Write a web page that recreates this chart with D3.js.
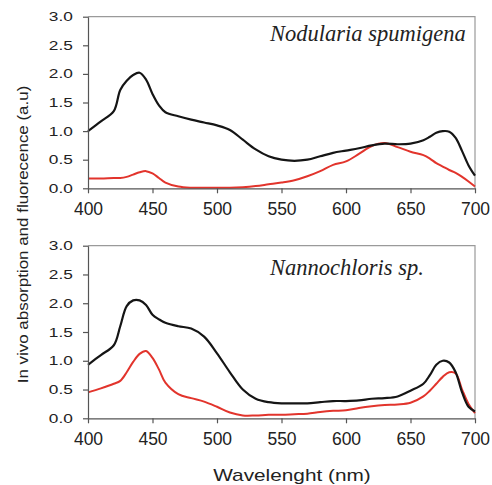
<!DOCTYPE html>
<html><head><meta charset="utf-8">
<script src="https://cdn.jsdelivr.net/npm/d3@7"></script>
<style>
html,body{margin:0;padding:0;background:#fff;}
svg{display:block;}
</style></head>
<body>
<script>
const wavelengths = [400,410,420,425,430,435,440,445,450,455,460,470,480,490,500,510,520,530,540,550,560,570,580,590,600,610,620,630,640,650,660,665,670,675,680,685,690,695,700];
const nodulariaAbs = [1.0,1.17,1.35,1.72,1.88,1.98,2.02,1.9,1.65,1.45,1.33,1.26,1.2,1.15,1.1,1.02,0.85,0.68,0.56,0.5,0.48,0.5,0.56,0.62,0.66,0.7,0.75,0.78,0.77,0.78,0.84,0.9,0.97,1.0,0.99,0.88,0.65,0.4,0.22];
const nodulariaFluo = [0.17,0.17,0.18,0.18,0.2,0.24,0.28,0.3,0.26,0.18,0.1,0.03,0.01,0.01,0.01,0.01,0.02,0.04,0.07,0.1,0.14,0.21,0.3,0.41,0.47,0.6,0.74,0.79,0.72,0.64,0.58,0.52,0.44,0.38,0.32,0.27,0.2,0.12,0.03];
const nannoAbs = [0.93,1.1,1.27,1.6,1.95,2.05,2.05,1.97,1.8,1.72,1.66,1.6,1.56,1.42,1.13,0.8,0.5,0.34,0.28,0.26,0.26,0.26,0.28,0.3,0.3,0.31,0.34,0.35,0.38,0.48,0.6,0.75,0.93,1.0,0.97,0.8,0.45,0.2,0.12];
const nannoFluo = [0.45,0.52,0.6,0.65,0.8,0.98,1.12,1.17,1.05,0.85,0.62,0.42,0.35,0.29,0.2,0.1,0.05,0.05,0.06,0.06,0.07,0.08,0.11,0.13,0.14,0.18,0.21,0.23,0.24,0.27,0.38,0.48,0.6,0.72,0.8,0.78,0.5,0.25,0.09];
const xTicks = [400,450,500,550,600,650,700];
const yTicks = [0,0.5,1.0,1.5,2.0,2.5,3.0];
const panelTitles = ["Nodularia spumigena","Nannochloris sp."];
const yTitle = "In vivo absorption and fluorecence (a.u)";
const xTitle = "Wavelenght (nm)";

const W = 492, H = 485;
const svg = d3.select("body").append("svg").attr("width", W).attr("height", H);

const x = d3.scaleLinear().domain([400,700]).range([88,475]);
const panels = [
  {top:16.7, bottom:188.3, abs:nodulariaAbs, fluo:nodulariaFluo, title:panelTitles[0], tx:270, ty:41},
  {top:245.7, bottom:418.3, abs:nannoAbs, fluo:nannoFluo, title:panelTitles[1], tx:270, ty:275}
];

panels.forEach(p => {
  const y = d3.scaleLinear().domain([0,3]).range([p.bottom, p.top]);
  const g = svg.append("g");
  g.append("path").attr("d", `M${x(400)},${p.top}H${x(700)}V${p.bottom}`)
    .attr("fill","none").attr("stroke","#9a9a9a").attr("stroke-width",1.2);

  const line = d3.line().x((d,i)=>x(wavelengths[i])).y(d=>y(d)).curve(d3.curveCatmullRom.alpha(0.5));
  g.append("path").datum(p.fluo).attr("d", line).attr("fill","none")
    .attr("stroke","#e2342c").attr("stroke-width",2);
  g.append("path").datum(p.abs).attr("d", line).attr("fill","none")
    .attr("stroke","#151515").attr("stroke-width",2.2);

  const xa = g.append("g").attr("transform",`translate(0,${p.bottom})`)
    .call(d3.axisBottom(x).tickValues(xTicks).tickSize(5).tickSizeOuter(0).tickFormat(d3.format("d")));
  xa.selectAll("text").attr("font-family","Liberation Sans, Arial, sans-serif").attr("font-size","17.5px")
    .attr("fill","#222").attr("y",14).attr("dy","0.71em");
  xa.selectAll("line,path").attr("stroke","#555").attr("stroke-width",1.2);

  const ya = g.append("g").attr("transform",`translate(${x(400)},0)`)
    .call(d3.axisLeft(y).tickValues(yTicks).tickSize(5).tickSizeOuter(0).tickFormat(d3.format(".1f")));
  ya.selectAll("text").attr("font-family","Liberation Sans, Arial, sans-serif").attr("font-size","12.5px")
    .attr("fill","#222").attr("x",-11).attr("transform","scale(1.38,1)");
  ya.selectAll("line,path").attr("stroke","#555").attr("stroke-width",1.2);

  g.append("text").attr("x",p.tx).attr("y",p.ty).text(p.title)
    .attr("font-family","Liberation Serif, Times New Roman, serif").attr("font-style","italic")
    .attr("font-size","22.5px").attr("fill","#222");
});

svg.append("text").attr("transform","translate(28,234.5) rotate(-90) scale(1.13,1)")
  .attr("text-anchor","middle").attr("font-family","Liberation Sans, Arial, sans-serif")
  .attr("font-size","15px").attr("fill","#222").text(yTitle);

svg.append("text").attr("transform","translate(292,481) scale(1.3,1)")
  .attr("text-anchor","middle").attr("font-family","Liberation Sans, Arial, sans-serif")
  .attr("font-size","16px").attr("fill","#222").text(xTitle);
</script>
</body></html>
